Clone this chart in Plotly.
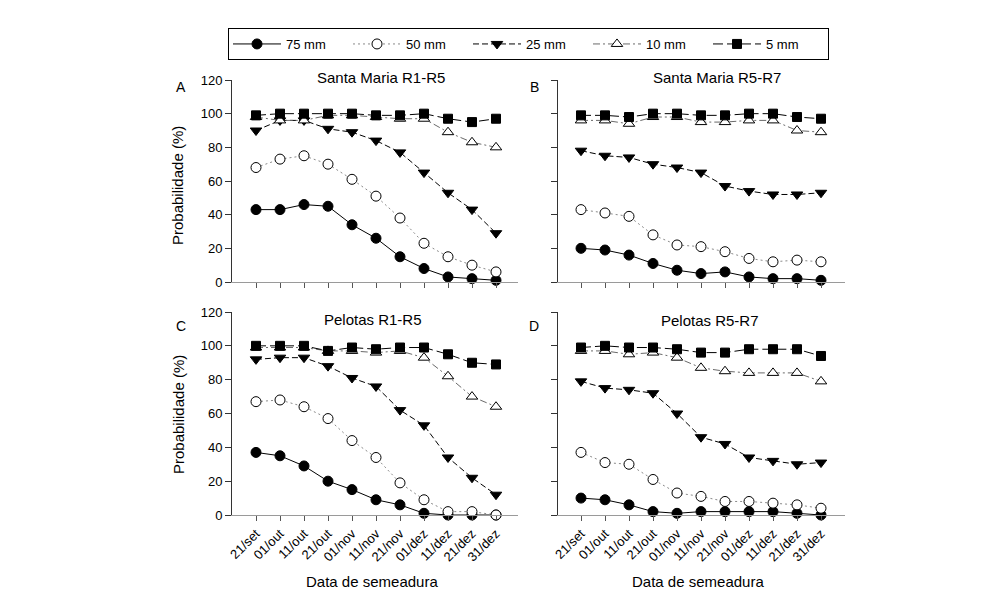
import plotly.graph_objects as go

dates = ["21/set", "01/out", "11/out", "21/out", "01/nov", "11/nov", "21/nov", "01/dez", "11/dez", "21/dez", "31/dez"]
series_names = ["75 mm", "50 mm", "25 mm", "10 mm", "5 mm"]

# Santa Maria R1-R5 (A)
a_75 = [43, 43, 46, 45, 34, 26, 15, 8, 3, 2, 1]
a_50 = [68, 73, 75, 70, 61, 51, 38, 23, 15, 10, 6]
a_25 = [90, 96, 96, 91, 89, 84, 77, 65, 53, 43, 29]
a_10 = [98, 96, 96, 99, 99, 98, 97, 97, 89, 83, 80]
a_5 = [99, 100, 100, 100, 100, 99, 99, 100, 97, 95, 97]

# Santa Maria R5-R7 (B)
b_75 = [20, 19, 16, 11, 7, 5, 6, 3, 2, 2, 1]
b_50 = [43, 41, 39, 28, 22, 21, 18, 14, 12, 13, 12]
b_25 = [78, 75, 74, 70, 68, 65, 57, 54, 52, 52, 53]
b_10 = [96, 96, 94, 98, 98, 95, 95, 96, 96, 90, 89]
b_5 = [99, 99, 98, 100, 100, 99, 99, 100, 100, 98, 97]

# Pelotas R1-R5 (C)
c_75 = [37, 35, 29, 20, 15, 9, 6, 1, 0, 0, 0]
c_50 = [67, 68, 64, 57, 44, 34, 19, 9, 2, 2, 0]
c_25 = [92, 93, 93, 88, 81, 76, 62, 53, 34, 22, 12]
c_10 = [99, 99, 99, 97, 97, 96, 97, 93, 82, 70, 64]
c_5 = [100, 100, 100, 97, 99, 98, 99, 99, 95, 90, 89]

# Pelotas R5-R7 (D)
d_75 = [10, 9, 6, 2, 1, 2, 2, 2, 2, 1, 0]
d_50 = [37, 31, 30, 21, 13, 11, 8, 8, 7, 6, 4]
d_25 = [79, 75, 74, 72, 60, 46, 42, 34, 32, 30, 31]
d_10 = [97, 97, 95, 96, 93, 87, 85, 84, 84, 84, 79]
d_5 = [99, 100, 99, 99, 98, 96, 96, 98, 98, 98, 94]

panel_titles = ["Santa Maria R1-R5", "Santa Maria R5-R7", "Pelotas R1-R5", "Pelotas R5-R7"]
panel_letters = ["A", "B", "C", "D"]
y_title = "Probabilidade (%)"
x_title = "Data de semeadura"

panels = [
    [a_75, a_50, a_25, a_10, a_5],
    [b_75, b_50, b_25, b_10, b_5],
    [c_75, c_50, c_25, c_10, c_5],
    [d_75, d_50, d_25, d_10, d_5],
]

# page has an 8px body margin; figure sized to fit the 1000x616 window
OFF = 8
W, H = 1000 - 2 * OFF, 616 - 2 * OFF
FONT = "Liberation Sans, Arial, sans-serif"


def fx(px):
    return (px - OFF) / W


def fy(py):
    return 1 - (py - OFF) / H


styles = [
    dict(line=dict(color="black", width=1, dash="solid"),
         marker=dict(symbol="circle", size=10, color="black", line=dict(color="black", width=1))),
    dict(line=dict(color="#8a8a8a", width=1, dash="2px,3px"),
         marker=dict(symbol="circle", size=10, color="white", line=dict(color="black", width=1))),
    dict(line=dict(color="black", width=1, dash="6px,3px"),
         marker=dict(symbol="triangle-down", size=10, color="black", line=dict(color="black", width=1))),
    dict(line=dict(color="#6a6a6a", width=1, dash="7px,3px,2px,3px"),
         marker=dict(symbol="triangle-up", size=10, color="white", line=dict(color="black", width=1))),
    dict(line=dict(color="black", width=1, dash="10px,4px"),
         marker=dict(symbol="square", size=9, color="black", line=dict(color="black", width=1))),
]

# screen-pixel geometry of panels: (x_left, x_right, y_axis_x, y_top(120), y_bottom(0), first_tick_px)
geo = [
    (226, 518, 231, 80, 282, 256),
    (551, 845, 557, 80, 282, 581),
    (226, 518, 231, 312, 515, 256),
    (551, 845, 557, 312, 515, 581),
]

fig = go.Figure()
xs = list(range(len(dates)))

for p, data in enumerate(panels):
    sfx = "" if p == 0 else str(p + 1)
    for s, vals in enumerate(data):
        st = styles[s]
        fig.add_trace(go.Scatter(
            x=xs, y=vals, mode="lines+markers", name=series_names[s],
            line=st["line"], marker=st["marker"], cliponaxis=False,
            showlegend=(p == 0), legendgroup=series_names[s],
            xaxis="x" + sfx, yaxis="y" + sfx,
        ))

layout = dict(
    width=W, height=H, margin=dict(l=0, r=0, t=0, b=0, autoexpand=False),
    paper_bgcolor="white", plot_bgcolor="white",
    font=dict(family=FONT, size=12, color="black"),
    showlegend=True,
    legend=dict(orientation="h", x=fx(228), xanchor="left", y=fy(28), yanchor="top",
                bordercolor="black", borderwidth=1, bgcolor="white",
                font=dict(size=13, family=FONT), itemwidth=48,
                entrywidth=57, entrywidthmode="pixels", tracegroupgap=0),
)

annotations = []
for p in range(4):
    xl, xr, yax, yt, yb, t0 = geo[p]
    sfx = "" if p == 0 else str(p + 1)
    step = 24.0
    rng = [(xl - t0) / step, (xr - t0) / step]
    bottom = p >= 2
    left = p % 2 == 0
    layout["xaxis" + sfx] = dict(
        domain=[fx(xl), fx(xr)], range=rng, anchor="y" + sfx,
        showline=True, linecolor="#9a9a9a", linewidth=1,
        ticks="outside", ticklen=5, tickcolor="#555", tickwidth=1,
        tickvals=xs, ticktext=dates, showticklabels=bottom, tickangle=-45,
        tickfont=dict(size=13, family=FONT, color="black"),
        showgrid=False, zeroline=False, fixedrange=True, automargin=False,
    )
    layout["yaxis" + sfx] = dict(
        domain=[fy(yb), fy(yt)], range=[0, 120], anchor="free", position=fx(yax),
        showline=True, linecolor="#333", linewidth=1,
        ticks="outside", ticklen=6, tickcolor="#333", tickwidth=1,
        tickvals=[0, 20, 40, 60, 80, 100, 120], showticklabels=left,
        tickfont=dict(size=13, family=FONT, color="black"),
        showgrid=False, zeroline=False, fixedrange=True, automargin=False,
    )
    tx = [381, 717, 373, 710][p]
    ty = [77, 77, 319, 320][p]
    annotations.append(dict(text=panel_titles[p], x=fx(tx), y=fy(ty), xref="paper", yref="paper",
                            showarrow=False, xanchor="center", yanchor="middle",
                            font=dict(size=15, family=FONT)))
    lx = [181, 534, 181, 534][p]
    ly = [87, 87, 326, 326][p]
    annotations.append(dict(text=panel_letters[p], x=fx(lx), y=fy(ly), xref="paper", yref="paper",
                            showarrow=False, xanchor="center", yanchor="middle",
                            font=dict(size=14, family=FONT)))
    if left:
        yc = [186, 0, 415, 0][p]
        annotations.append(dict(text=y_title, x=fx(178), y=fy(yc), xref="paper", yref="paper",
                                showarrow=False, textangle=-90, xanchor="center", yanchor="middle",
                                font=dict(size=15, family=FONT)))
    if bottom:
        annotations.append(dict(text=x_title, x=fx((xl + xr) / 2), y=fy(581), xref="paper", yref="paper",
                                showarrow=False, xanchor="center", yanchor="middle",
                                font=dict(size=15, family=FONT)))

layout["annotations"] = annotations
fig.update_layout(**layout)
fig.write_html("out.html")
